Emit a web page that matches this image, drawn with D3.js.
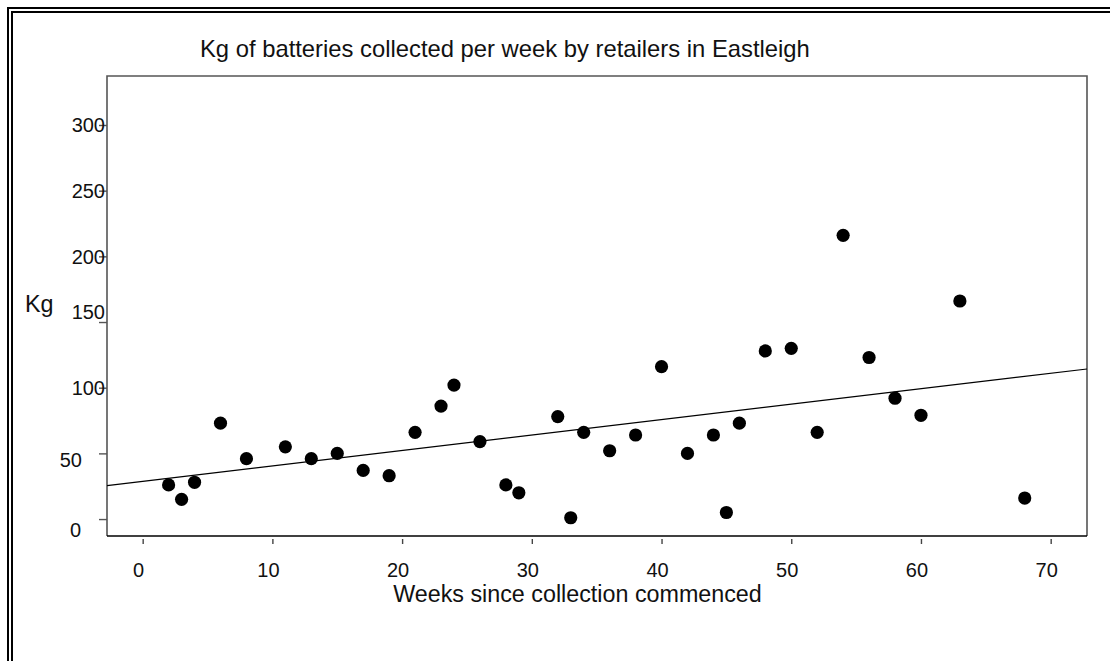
<!DOCTYPE html>
<html>
<head>
<meta charset="utf-8">
<script src="https://cdn.jsdelivr.net/npm/d3@7"></script>
<style>
  html, body { margin: 0; padding: 0; background: #fff; }
  svg { display: block; font-family: "Liberation Sans", Arial, sans-serif; }
</style>
</head>
<body>
<svg id="chart" width="1110" height="661"></svg>
<script>
// Weekly battery collection (kg) by week number
const weeks = [2, 3, 4, 6, 8, 11, 13, 15, 17, 19, 21, 23, 24, 26, 28, 29, 32, 33, 34, 36,
               38, 40, 42, 44, 45, 46, 48, 50, 52, 54, 56, 58, 60, 63, 68];
const kg = [26, 15, 28, 73, 46, 55, 46, 50, 37, 33, 66, 86, 102, 59, 26, 20, 78, 1, 66, 52,
            64, 116, 50, 64, 5, 73, 128, 130, 66, 216, 123, 92, 79, 166, 16];
const xTicks = [0, 10, 20, 30, 40, 50, 60, 70];
const yTicks = [0, 50, 100, 150, 200, 250, 300];

const titleText = "Kg of batteries collected per week by retailers in Eastleigh";
const xTitle = "Weeks since collection commenced";
const yTitle = "Kg";

const svg = d3.select("#chart");
const plot = { left: 107, top: 76, right: 1087, bottom: 536 };

const x = d3.scaleLinear().domain([-2.75, 72.8]).range([plot.left, plot.right]);
const y = d3.scaleLinear().domain([-12.9, 337.3]).range([plot.bottom, plot.top]);

// double page border
svg.append("rect").attr("x", 8).attr("y", 8).attr("width", 1300).attr("height", 900)
  .attr("fill", "none").attr("stroke", "#000").attr("stroke-width", 2);
svg.append("rect").attr("x", 12).attr("y", 12).attr("width", 1300).attr("height", 900)
  .attr("fill", "none").attr("stroke", "#000").attr("stroke-width", 2);

// title
svg.append("text").attr("x", 200).attr("y", 57)
  .attr("font-size", 23.8).attr("fill", "#111").text(titleText);

// plot frame: grey left/top/right, black baseline
svg.append("path")
  .attr("d", `M${plot.left},${plot.bottom}V${plot.top}H${plot.right}V${plot.bottom}`)
  .attr("fill", "none").attr("stroke", "#555").attr("stroke-width", 1.6);
svg.append("line")
  .attr("x1", plot.left).attr("x2", plot.right)
  .attr("y1", plot.bottom).attr("y2", plot.bottom)
  .attr("stroke", "#000").attr("stroke-width", 1.6);

// y axis
const yAxis = svg.append("g").attr("transform", `translate(${plot.left},0)`)
  .call(d3.axisLeft(y).tickValues(yTicks).tickSize(8).tickSizeOuter(0).tickPadding(2));
yAxis.select(".domain").remove();
yAxis.selectAll(".tick line").attr("stroke", "#555").attr("stroke-width", 1.4);
// label nudges [dx, dy] per tick
const yNudge = { 0: [-24, 10], 50: [-23, 6], 150: [0, -11] };
yAxis.selectAll(".tick text")
  .attr("font-size", 20).attr("font-family", "Liberation Sans, Arial, sans-serif")
  .attr("fill", "#111")
  .attr("x", d => -2 + (yNudge[d] ? yNudge[d][0] : 0))
  .attr("dy", d => (yNudge[d] ? yNudge[d][1] : 0) + 7)
  .attr("text-anchor", "end");

// x axis (ticks sit just below the baseline)
const xAxis = svg.append("g").attr("transform", `translate(0,${plot.bottom + 3})`)
  .call(d3.axisBottom(x).tickValues(xTicks).tickSize(5).tickSizeOuter(0));
xAxis.select(".domain").remove();
xAxis.selectAll(".tick line").attr("stroke", "#444").attr("stroke-width", 1.4);
xAxis.selectAll(".tick text")
  .attr("font-size", 20).attr("font-family", "Liberation Sans, Arial, sans-serif")
  .attr("fill", "#111")
  .attr("x", -4.5).attr("y", 38).attr("dy", 0);

// axis titles
svg.append("text").attr("x", 577.5).attr("y", 601.5).attr("text-anchor", "middle")
  .attr("font-size", 23.3).attr("fill", "#111").text(xTitle);
svg.append("text").attr("x", 25).attr("y", 311.5)
  .attr("font-size", 23.3).attr("fill", "#111").text(yTitle);

// least-squares fit line
const mx = d3.mean(weeks), my = d3.mean(kg);
const sxy = d3.sum(weeks, (w, i) => (w - mx) * (kg[i] - my));
const sxx = d3.sum(weeks, w => (w - mx) ** 2);
const slope = sxy / sxx, intercept = my - slope * mx;
const [x0, x1] = x.domain();
svg.append("line")
  .attr("x1", x(x0)).attr("y1", y(intercept + slope * x0))
  .attr("x2", x(x1)).attr("y2", y(intercept + slope * x1))
  .attr("stroke", "#000").attr("stroke-width", 1.2);

// points
svg.append("g").selectAll("circle")
  .data(weeks.map((w, i) => ({ w, v: kg[i] })))
  .join("circle")
  .attr("cx", d => x(d.w)).attr("cy", d => y(d.v))
  .attr("r", 6.6).attr("fill", "#000");
</script>
</body>
</html>
